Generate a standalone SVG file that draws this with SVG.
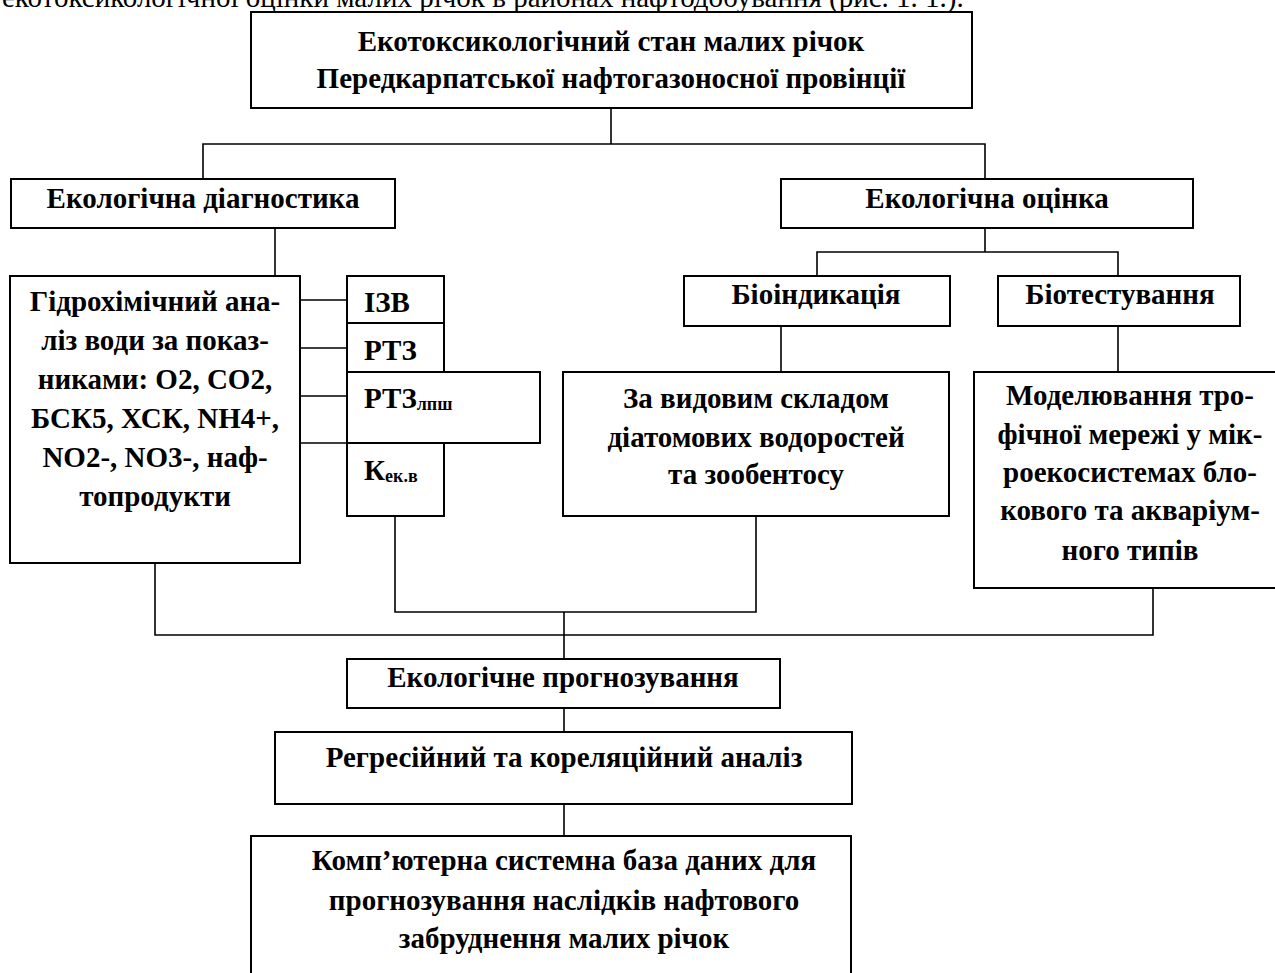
<svg xmlns="http://www.w3.org/2000/svg" width="1275" height="973" viewBox="0 0 1275 973">
<style>
.b{fill:#fff;stroke:#000;stroke-width:2}
.t{font-family:"Liberation Serif","Times New Roman",serif;font-weight:bold;font-size:29px;fill:#000}
.c{text-anchor:middle}
.s{font-size:18px}
.r{font-family:"Liberation Serif","Times New Roman",serif;font-size:29px;fill:#000}
#connectors path{fill:none;stroke:#000;stroke-width:1.6}
</style>
<rect x="0" y="0" width="1275" height="973" fill="#fff"/>
<text class="r" x="2" y="7">екотоксикологічної оцінки малих річок в районах нафтодобування (рис. 1. 1.).</text>
<g id="connectors">
<path d="M611,108V144M203,179V144H985V179"/>
<path d="M275,228V276"/>
<path d="M300,300H347M300,348H347M300,396H347M300,443H347"/>
<path d="M985,228V252M817,276V252H1118V276"/>
<path d="M781,326V372M1118,326V372"/>
<path d="M395,516V612H756V516"/>
<path d="M155,563V635H1153V588"/>
<path d="M564,612V659"/>
<path d="M564,708V732M564,804V836"/>
</g>
<g id="n-top"><rect class="b" x="251" y="12" width="721" height="96"/>
<text class="t c" x="611" y="51">Екотоксикологічний стан малих річок</text>
<text class="t c" x="611" y="88">Передкарпатської нафтогазоносної провінції</text></g>
<g id="n-diag"><rect class="b" x="11" y="179" width="384" height="49"/><text class="t c" x="203" y="208">Екологічна діагностика</text></g>
<g id="n-ocinka"><rect class="b" x="781" y="179" width="412" height="49"/><text class="t c" x="987" y="208">Екологічна оцінка</text></g>
<g id="n-hydro"><rect class="b" x="10" y="276" width="290" height="287"/>
<text class="t c" x="155" y="311">Гідрохімічний ана-</text>
<text class="t c" x="155" y="350">ліз води за показ-</text>
<text class="t c" x="155" y="389">никами: О2, СО2,</text>
<text class="t c" x="155" y="428">БСК5, ХСК, NH4+,</text>
<text class="t c" x="155" y="467">NO2-, NO3-, наф-</text>
<text class="t c" x="155" y="506">топродукти</text></g>
<g id="n-izv"><rect class="b" x="347" y="276" width="97" height="47"/><text class="t" x="364" y="312">ІЗВ</text></g>
<g id="n-rtz"><rect class="b" x="347" y="323" width="97" height="49"/><text class="t" x="364" y="360">РТЗ</text></g>
<g id="n-rtzl"><rect class="b" x="347" y="372" width="193" height="71"/><text class="t" x="364" y="408">РТЗ<tspan class="s" dy="2">лпш</tspan></text></g>
<g id="n-kek"><rect class="b" x="347" y="443" width="97" height="73"/><text class="t" x="364" y="480">К<tspan class="s" dy="2">ек.в</tspan></text></g>
<g id="n-bioind"><rect class="b" x="684" y="276" width="266" height="50"/><text class="t c" x="816" y="304">Біоіндикація</text></g>
<g id="n-biotest"><rect class="b" x="998" y="276" width="242" height="50"/><text class="t c" x="1120" y="304">Біотестування</text></g>
<g id="n-vyd"><rect class="b" x="563" y="372" width="386" height="144"/>
<text class="t c" x="756" y="408">За видовим складом</text>
<text class="t c" x="756" y="447">діатомових водоростей</text>
<text class="t c" x="756" y="484">та зообентосу</text></g>
<g id="n-model"><rect class="b" x="974" y="372" width="316" height="216"/>
<text class="t c" x="1130" y="405">Моделювання тро-</text>
<text class="t c" x="1130" y="444">фічної мережі у мік-</text>
<text class="t c" x="1130" y="482">роекосистемах бло-</text>
<text class="t c" x="1130" y="520">кового та акваріум-</text>
<text class="t c" x="1130" y="560">ного типів</text></g>
<g id="n-prog"><rect class="b" x="347" y="659" width="433" height="49"/><text class="t c" x="563" y="687">Екологічне прогнозування</text></g>
<g id="n-regr"><rect class="b" x="275" y="732" width="577" height="72"/><text class="t c" x="564" y="767">Регресійний та кореляційний аналіз</text></g>
<g id="n-comp"><rect class="b" x="251" y="836" width="600" height="160"/>
<text class="t c" x="564" y="870">Комп’ютерна системна база даних для</text>
<text class="t c" x="564" y="910">прогнозування наслідків нафтового</text>
<text class="t c" x="564" y="948">забруднення малих річок</text></g>
</svg>
